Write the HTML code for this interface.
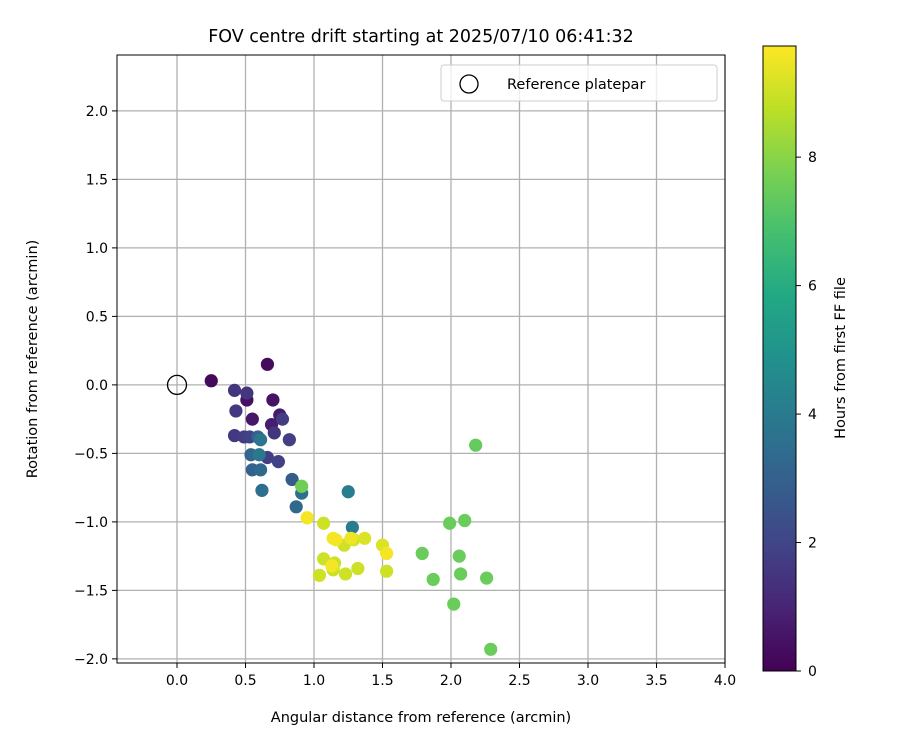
<!DOCTYPE html>
<html><head><meta charset="utf-8"><style>
body{margin:0;background:#fff}
svg{display:block;font-family:"DejaVu Sans","Liberation Sans",sans-serif}
</style></head><body>
<svg id="c" width="900" height="750">
<defs><linearGradient id="vir" x1="0" y1="1" x2="0" y2="0">
<stop offset="0" stop-color="#440154"/><stop offset=".1" stop-color="#482475"/><stop offset=".2" stop-color="#414487"/><stop offset=".3" stop-color="#355f8d"/><stop offset=".4" stop-color="#2a788e"/><stop offset=".5" stop-color="#21918c"/><stop offset=".6" stop-color="#22a884"/><stop offset=".7" stop-color="#44bf70"/><stop offset=".8" stop-color="#7ad151"/><stop offset=".9" stop-color="#bddf26"/><stop offset="1" stop-color="#fde725"/>
</linearGradient><clipPath id="clip"><rect x="117" y="55" width="608" height="608"/></clipPath></defs>
<text x="421" y="42" font-size="17.5" text-anchor="middle">FOV centre drift starting at 2025/07/10 06:41:32</text>
<g id="grid"></g><g id="pts" clip-path="url(#clip)"></g>
<rect x="117" y="55" width="608" height="608" fill="none" stroke="#000" stroke-width="1"/>
<g id="ticks"></g>
<text x="421" y="722" font-size="14.5" text-anchor="middle">Angular distance from reference (arcmin)</text>
<text transform="translate(37,359) rotate(-90)" font-size="14.5" text-anchor="middle">Rotation from reference (arcmin)</text>
<g>
<rect x="441" y="65" width="276" height="36" rx="3" fill="#fff" fill-opacity="0.8" stroke="#ccc"/>
<circle cx="469" cy="84" r="9" fill="none" stroke="#000" stroke-width="1.3"/>
<text x="507" y="89" font-size="14.5">Reference platepar</text>
</g>
<rect x="763" y="46" width="33" height="625" fill="url(#vir)" stroke="#000" stroke-width="1"/>
<g id="cbt"></g>
<text transform="translate(845,358) rotate(-90)" font-size="14.5" text-anchor="middle">Hours from first FF file</text>
</svg>
<script>
const xs=[0.25,0.66,0.51,0.70,0.55,0.75,0.69, 0.42,0.51,0.43,0.42,0.49,0.71,0.82,0.74,0.66,0.77,0.53, 0.59,0.54,0.55,0.61,0.62,0.84,0.87,0.91,0.61,0.60, 1.25,1.28, 0.91,2.18,2.10,1.99,1.79,2.06,1.87,2.07,2.26,2.02,2.29, 1.07,1.04,1.07,1.15,1.23,1.32,1.50,1.53,1.22,1.37,1.14,1.29, 0.95,1.14,1.13,1.53,1.16,1.27];
const ys=[0.03,0.15,-0.11,-0.11,-0.25,-0.22,-0.29, -0.04,-0.06,-0.19,-0.37,-0.38,-0.35,-0.40,-0.56,-0.53,-0.25,-0.38, -0.38,-0.51,-0.62,-0.62,-0.77,-0.69,-0.89,-0.79,-0.40,-0.51, -0.78,-1.04, -0.74,-0.44,-0.99,-1.01,-1.23,-1.25,-1.42,-1.38,-1.41,-1.60,-1.93, -1.01,-1.39,-1.27,-1.30,-1.38,-1.34,-1.17,-1.36,-1.17,-1.12,-1.35,-1.13, -0.97,-1.12,-1.32,-1.23,-1.13,-1.12];
const hours=[0.2,0.3,0.4,0.5,0.6,0.7,0.8, 1.5,1.5,1.6,1.6,1.7,1.5,1.8,1.9,1.8,1.7,1.9, 3.0,3.2,3.0,3.3,3.5,2.8,3.3,3.6,3.8,3.9, 4.1,4.0, 7.6,7.4,7.5,7.5,7.5,7.5,7.5,7.5,7.5,7.5,7.5, 9.0,9.0,9.0,9.0,9.0,9.0,9.2,9.0,9.0,9.2,9.0,9.1, 9.6,9.6,9.6,9.6,9.6,9.5];
const xTicks=[0,0.5,1,1.5,2,2.5,3,3.5,4];
const yTicks=[-2,-1.5,-1,-0.5,0,0.5,1,1.5,2];
const cTicks=[0,2,4,6,8];
const X0=117,X1=725,Y0=55,Y1=663,xmin=-0.438,xmax=4,ymin=-2.03,ymax=2.408,cmax=9.73;
const sx=v=>X0+(v-xmin)/(xmax-xmin)*(X1-X0);
const sy=v=>Y1-(v-ymin)/(ymax-ymin)*(Y1-Y0);
const sc=v=>671-v/cmax*625;
const stops=["#440154","#482475","#414487","#355f8d","#2a788e","#21918c","#22a884","#44bf70","#7ad151","#bddf26","#fde725"].map(h=>[1,3,5].map(i=>parseInt(h.substr(i,2),16)));
function vir(t){t=Math.max(0,Math.min(1,t))*10;const i=Math.min(9,Math.floor(t)),f=t-i;return 'rgb('+stops[i].map((c,k)=>Math.round(c+(stops[i+1][k]-c)*f)).join(',')+')';}
const NS='http://www.w3.org/2000/svg';
function mk(tag,a,p){const e=document.createElementNS(NS,tag);for(const k in a)e.setAttribute(k,a[k]);p.appendChild(e);return e;}
const g=document.getElementById('grid'),t=document.getElementById('ticks'),pg=document.getElementById('pts'),cb=document.getElementById('cbt');
xTicks.forEach(v=>{const x=sx(v);
const l=mk('line',{x1:x,x2:x,y1:Y0,y2:Y1,stroke:'#b0b0b0','stroke-width':1.3},g);


mk('line',{x1:x,x2:x,y1:Y1,y2:Y1+5,stroke:'#000'},t);
const tx=mk('text',{x:x,y:Y1+22,'font-size':14,'text-anchor':'middle'},t);tx.textContent=v.toFixed(1);

});
yTicks.forEach(v=>{const y=sy(v);
const l=mk('line',{x1:X0,x2:X1,y1:y,y2:y,stroke:'#b0b0b0','stroke-width':1.3},g);


mk('line',{x1:X0-5,x2:X0,y1:y,y2:y,stroke:'#000'},t);
const tx=mk('text',{x:X0-9,y:y+5,'font-size':14,'text-anchor':'end'},t);tx.textContent=v.toFixed(1).replace('-','−');

});
cTicks.forEach(v=>{const y=sc(v);
mk('line',{x1:796,x2:801,y1:y,y2:y,stroke:'#000'},cb);
const tx=mk('text',{x:808,y:y+5,'font-size':14},cb);tx.textContent=v;

});
const idx=hours.map((h,i)=>i).sort((a,b)=>hours[a]-hours[b]);
idx.forEach(i=>{const c=mk('circle',{cx:sx(xs[i]),cy:sy(ys[i]),r:6.6,fill:vir(hours[i]/cmax)},pg);

});
const r=mk('circle',{cx:sx(0),cy:sy(0),r:9.5,fill:'none',stroke:'#000','stroke-width':1.3},pg);


</script>
</body></html>
